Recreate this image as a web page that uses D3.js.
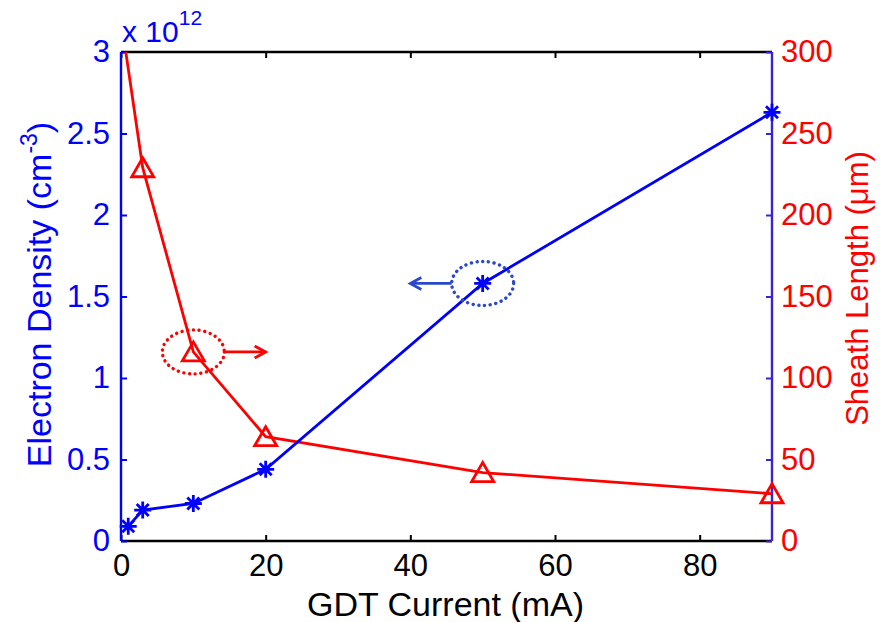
<!DOCTYPE html>
<html>
<head>
<meta charset="utf-8">
<script src="https://cdn.jsdelivr.net/npm/d3@7"></script>
<style>
  body { margin: 0; background: #fff; }
  svg text { font-family: "Liberation Sans", Arial, sans-serif; }
</style>
</head>
<body>
<svg id="chart" width="883" height="622"></svg>
<script>
// GDT current (mA)
const currents = [1, 3, 10, 20, 50, 90];
// electron density, in units of 10^12 cm^-3
const density = [0.09, 0.19, 0.23, 0.44, 1.58, 2.63];
// sheath length (um); first point lies just above the axis limit
const sheathCurrents = [0.5, 3, 10, 20, 50, 90];
const sheath = [305, 229, 116, 64, 42, 29];

const xTicks = [0, 20, 40, 60, 80];
const leftTicks = [0, 0.5, 1, 1.5, 2, 2.5, 3];
const rightTicks = [0, 50, 100, 150, 200, 250, 300];

// circled points with arrows pointing to their axis
const redNote = { x: 10, y: 116, tip: 20 };
const blueNote = { x: 50, y: 1.58, tip: 40 };

const blue = "#0000ff";
const red = "#ff0000";
const noteBlue = "#2a48cc";

const svg = d3.select("#chart");
const margin = { top: 52, right: 111, bottom: 81, left: 121 };
const width = 883 - margin.left - margin.right;
const height = 622 - margin.top - margin.bottom;

const x = d3.scaleLinear().domain([0, 90]).range([0, width]);
const yL = d3.scaleLinear().domain([0, 3]).range([height, 0]);
const yR = d3.scaleLinear().domain([0, 300]).range([height, 0]);

svg.append("defs")
  .append("clipPath")
  .attr("id", "plot-clip")
  .append("rect")
  .attr("width", width)
  .attr("height", height);

const g = svg.append("g")
  .attr("transform", `translate(${margin.left},${margin.top})`);

const tickFont = "31px";
const labelFont = "34px";

// bottom axis
const xAxis = g.append("g")
  .attr("transform", `translate(0,${height})`)
  .call(d3.axisBottom(x).tickValues(xTicks).tickSize(-6).tickPadding(13));
xAxis.selectAll("text").style("font-size", tickFont).attr("fill", "#000");
xAxis.selectAll("line").attr("stroke", "#000").attr("stroke-width", 2);
xAxis.select(".domain").remove();

// top ticks
const topAxis = g.append("g")
  .call(d3.axisTop(x).tickValues(xTicks).tickSize(-6).tickFormat(""));
topAxis.selectAll("line").attr("stroke", "#000").attr("stroke-width", 2);
topAxis.select(".domain").remove();

// box top and bottom
g.append("line").attr("x1", 0).attr("x2", width).attr("y1", 0).attr("y2", 0)
  .attr("stroke", "#000").attr("stroke-width", 2.4);
g.append("line").attr("x1", 0).attr("x2", width).attr("y1", height).attr("y2", height)
  .attr("stroke", "#000").attr("stroke-width", 2.4);

// left axis
const leftAxis = g.append("g")
  .call(d3.axisLeft(yL).tickValues(leftTicks).tickSize(-6).tickPadding(11)
    .tickFormat(d3.format("~g")));
leftAxis.selectAll("text").style("font-size", tickFont).attr("fill", blue);
leftAxis.selectAll("line").attr("stroke", blue).attr("stroke-width", 2);
leftAxis.select(".domain").remove();
g.append("line").attr("x1", 0).attr("x2", 0).attr("y1", 0).attr("y2", height)
  .attr("stroke", blue).attr("stroke-width", 2.4);

// right axis
const rightAxis = g.append("g")
  .attr("transform", `translate(${width},0)`)
  .call(d3.axisRight(yR).tickValues(rightTicks).tickSize(-6).tickPadding(9));
rightAxis.selectAll("text").style("font-size", tickFont).attr("fill", red);
rightAxis.selectAll("line").attr("stroke", "#3a22d6").attr("stroke-width", 2);
rightAxis.select(".domain").remove();
g.append("line").attr("x1", width).attr("x2", width).attr("y1", 0).attr("y2", height)
  .attr("stroke", "#3a22d6").attr("stroke-width", 2.4);

// x 10^12 multiplier
const mult = g.append("text")
  .attr("x", 1)
  .attr("y", -10)
  .attr("fill", blue)
  .style("font-size", "30px");
mult.append("tspan").text("x 10");
mult.append("tspan").attr("dy", -17).style("font-size", "21px").text("12");

// axis labels
g.append("text")
  .attr("x", width / 2 - 1)
  .attr("y", height + 75)
  .attr("text-anchor", "middle")
  .style("font-size", labelFont)
  .attr("fill", "#000")
  .text("GDT Current (mA)");

const yl = g.append("text")
  .attr("transform", `translate(${-70},${height / 2 - 2}) rotate(-90)`)
  .attr("text-anchor", "middle")
  .style("font-size", labelFont)
  .attr("fill", blue);
yl.append("tspan").text("Electron Density (cm");
yl.append("tspan").attr("dy", -14).style("font-size", "23px").text("-3");
yl.append("tspan").attr("dy", 14).text(")");

g.append("text")
  .attr("transform", `translate(${width + 96},${height / 2 - 8}) rotate(-90)`)
  .attr("text-anchor", "middle")
  .style("font-size", "31px")
  .attr("fill", red)
  .text("Sheath Length (\u03bcm)");

// data lines
const plot = g.append("g").attr("clip-path", "url(#plot-clip)");

const blueData = currents.map((c, i) => [c, density[i]]);
const redData = sheathCurrents.map((c, i) => [c, sheath[i]]);

plot.append("path")
  .datum(redData)
  .attr("fill", "none")
  .attr("stroke", red)
  .attr("stroke-width", 2.8)
  .attr("d", d3.line().x(d => x(d[0])).y(d => yR(d[1])));

plot.append("path")
  .datum(blueData)
  .attr("fill", "none")
  .attr("stroke", blue)
  .attr("stroke-width", 2.8)
  .attr("d", d3.line().x(d => x(d[0])).y(d => yL(d[1])));

// triangle markers (only points inside the limits)
const tri = "M0,-10 L11,9 L-11,9 Z";
g.selectAll(".tri")
  .data(redData.filter(d => d[1] <= 300))
  .enter()
  .append("path")
  .attr("class", "tri")
  .attr("d", tri)
  .attr("transform", d => `translate(${x(d[0])},${yR(d[1])})`)
  .attr("fill", "none")
  .attr("stroke", red)
  .attr("stroke-width", 2.8);

// asterisk markers
const star = "M-8.5,0H8.5M0,-8.5V8.5M-6,-6L6,6M-6,6L6,-6";
g.selectAll(".star")
  .data(blueData)
  .enter()
  .append("path")
  .attr("class", "star")
  .attr("d", star)
  .attr("transform", d => `translate(${x(d[0])},${yL(d[1])})`)
  .attr("fill", "none")
  .attr("stroke", blue)
  .attr("stroke-width", 2.8);

// annotations
const drawNote = (cx, cy, tipX, color) => {
  g.append("ellipse")
    .attr("cx", cx)
    .attr("cy", cy)
    .attr("rx", 31)
    .attr("ry", 22)
    .attr("fill", "none")
    .attr("stroke", color)
    .attr("stroke-width", 3.4)
    .attr("stroke-linecap", "round")
    .attr("stroke-dasharray", "0.1 5.6");
  const startX = tipX > cx ? cx + 31 : cx - 31;
  const dir = tipX > cx ? 1 : -1;
  g.append("line")
    .attr("x1", startX).attr("y1", cy)
    .attr("x2", tipX).attr("y2", cy)
    .attr("stroke", color).attr("stroke-width", 2.8);
  g.append("path")
    .attr("d", `M${tipX - dir * 11},${cy - 6} L${tipX},${cy} L${tipX - dir * 11},${cy + 6}`)
    .attr("fill", "none")
    .attr("stroke", color)
    .attr("stroke-width", 2.8);
};

drawNote(x(redNote.x), yR(redNote.y), x(redNote.tip), red);
drawNote(x(blueNote.x), yL(blueNote.y), x(blueNote.tip), noteBlue);
</script>
</body>
</html>
